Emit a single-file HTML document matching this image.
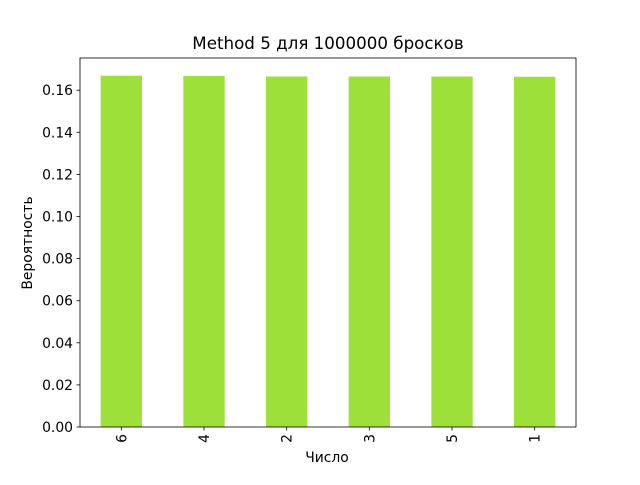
<!DOCTYPE html>
<html><head><meta charset="utf-8"><style>
body{margin:0;background:#fff;}
svg text{font-family:"DejaVu Sans","Liberation Sans",sans-serif;fill:#000;}
</style></head><body>
<svg id="chart" width="640" height="480" viewBox="0 0 640 480">
<rect x="0" y="0" width="640" height="480" fill="#fff"/>
<text x="328" y="49" font-size="16.7" text-anchor="middle">Method 5 для 1000000 бросков</text>
<g id="bars"></g>
<g id="yticks"></g>
<g id="xticks"></g>
<rect x="80" y="58" width="496" height="369" fill="none" stroke="#000" stroke-width="0.8"/>
<text x="327" y="462" font-size="13.9" text-anchor="middle">Число</text>
<text transform="translate(32,243) rotate(-90)" font-size="13.9" text-anchor="middle">Вероятность</text>
</svg>
<script>
const categories = ["6","4","2","3","5","1"];
const values = [0.1669,0.1668,0.1665,0.1665,0.1665,0.1664];
const yTicks = [0,0.02,0.04,0.06,0.08,0.10,0.12,0.14,0.16];
const yTickLabels = ["0.00","0.02","0.04","0.06","0.08","0.10","0.12","0.14","0.16"];
const NS="http://www.w3.org/2000/svg";
const L=80,R=576,T=58,B=427,ymax=0.1753;
const y=v=>B-(v/ymax)*(B-T);
const step=(R-L)/categories.length;
const x=i=>L+step*(i+0.5);
const bars=document.getElementById('bars'),yt=document.getElementById('yticks'),xt=document.getElementById('xticks');
categories.forEach((c,i)=>{
  const r=document.createElementNS(NS,'rect');
  r.setAttribute('x',x(i)-step/4);r.setAttribute('width',step/2);
  r.setAttribute('y',y(values[i]));r.setAttribute('height',B-y(values[i]));
  r.setAttribute('fill','#9de03a');
  
  
  bars.appendChild(r);
  const tk=document.createElementNS(NS,'line');
  tk.setAttribute('x1',x(i));tk.setAttribute('x2',x(i));tk.setAttribute('y1',B);tk.setAttribute('y2',B+3.5);
  tk.setAttribute('stroke','#000');tk.setAttribute('stroke-width','0.8');
  
  
  xt.appendChild(tk);
  const t=document.createElementNS(NS,'text');
  t.setAttribute('transform','translate('+(x(i)+5)+','+(B+7)+') rotate(-90)');
  t.setAttribute('font-size','13.9');t.setAttribute('text-anchor','end');
  t.textContent=c;
  
  
  xt.appendChild(t);
});
yTicks.forEach((v,i)=>{
  const tk=document.createElementNS(NS,'line');
  tk.setAttribute('x1',L-3.5);tk.setAttribute('x2',L);tk.setAttribute('y1',y(v));tk.setAttribute('y2',y(v));
  tk.setAttribute('stroke','#000');tk.setAttribute('stroke-width','0.8');
  
  
  yt.appendChild(tk);
  const t=document.createElementNS(NS,'text');
  t.setAttribute('x',L-7);t.setAttribute('y',y(v)+5);
  t.setAttribute('font-size','13.9');t.setAttribute('text-anchor','end');
  t.textContent=yTickLabels[i];
  
  
  yt.appendChild(t);
});
</script>
</body></html>
